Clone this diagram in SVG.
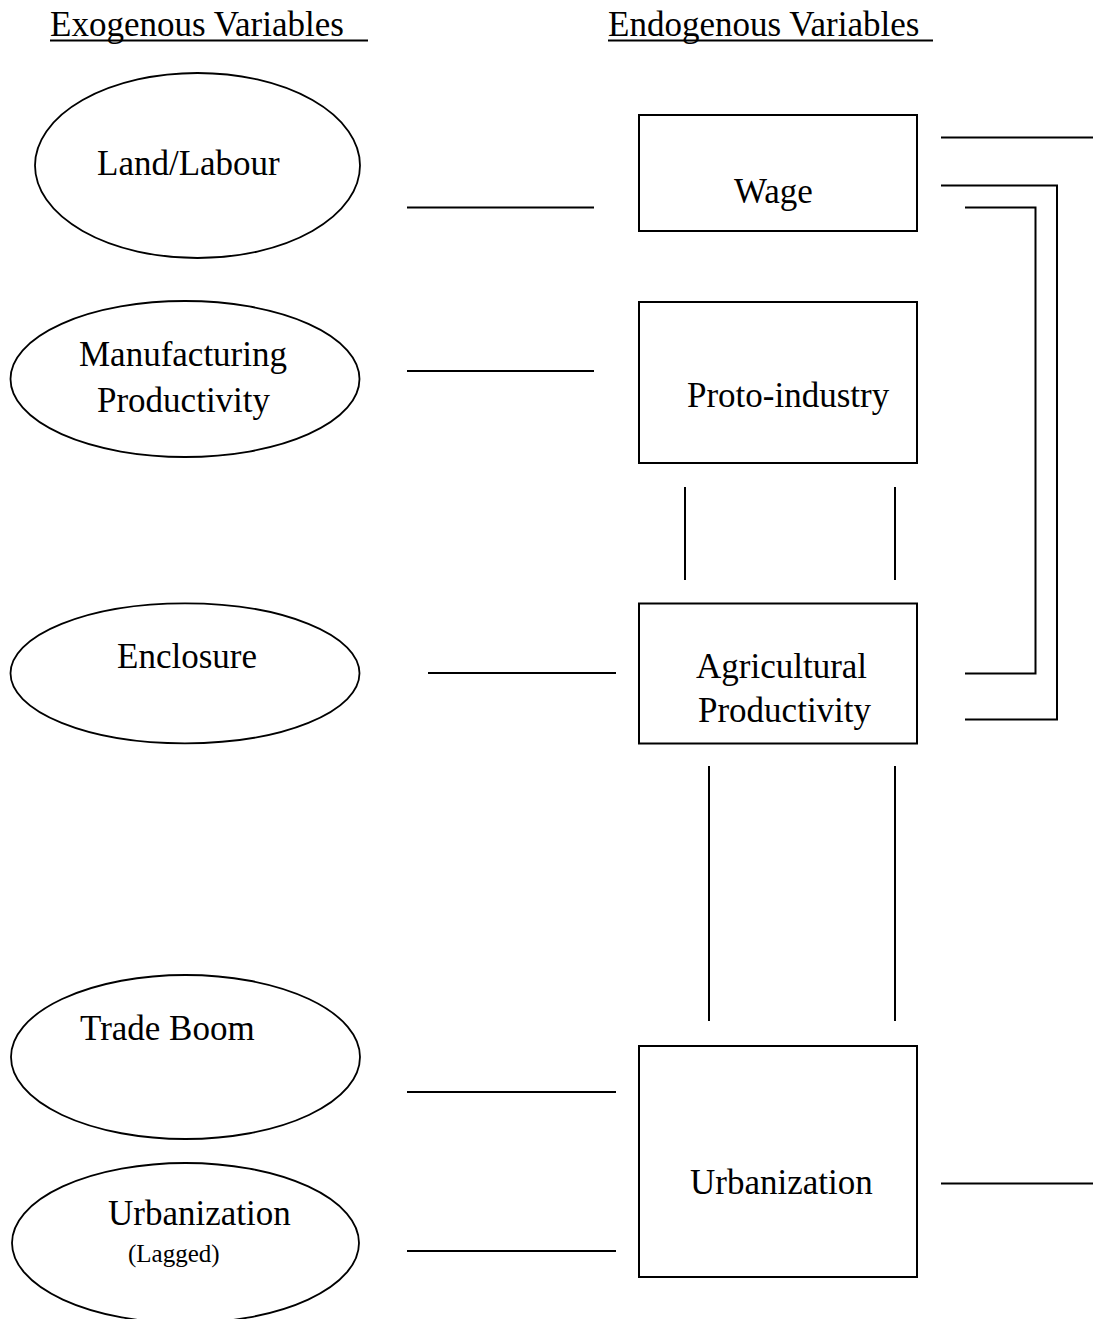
<svg xmlns="http://www.w3.org/2000/svg" width="1093" height="1319" viewBox="0 0 1093 1319">
<style>
  text { font-family: "Liberation Serif", "Times New Roman", serif; font-size: 35px; fill: #000; }
  .small { font-size: 25px; }
  .shape { fill: #fff; stroke: #000; stroke-width: 2; }
  .ell { fill: #fff; stroke: #000; stroke-width: 1.8; }
  .conn line, .conn polyline { stroke: #000; stroke-width: 2; fill: none; }
  .ul { stroke: #000; stroke-width: 2.2; }
</style>
<rect x="0" y="0" width="1093" height="1319" fill="#fff"/>

<g id="headers">
  <text x="50" y="36">Exogenous Variables</text>
  <line class="ul" x1="50" y1="40.5" x2="368" y2="40.5"/>
  <text x="608" y="36">Endogenous Variables</text>
  <line class="ul" x1="608" y1="40.5" x2="933" y2="40.5"/>
</g>

<g id="land-labour">
  <ellipse class="ell" cx="197.5" cy="165.5" rx="162.5" ry="92.5"/>
  <text x="97" y="175">Land/Labour</text>
</g>
<g id="manufacturing-productivity">
  <ellipse class="ell" cx="185" cy="379" rx="174.5" ry="78"/>
  <text x="79" y="366">Manufacturing</text>
  <text x="97" y="411.5">Productivity</text>
</g>
<g id="enclosure">
  <ellipse class="ell" cx="185" cy="673.3" rx="174.5" ry="70"/>
  <text x="117" y="668">Enclosure</text>
</g>
<g id="trade-boom">
  <ellipse class="ell" cx="185.5" cy="1057" rx="174.5" ry="82"/>
  <text x="80" y="1040">Trade Boom</text>
</g>
<g id="urbanization-lagged">
  <ellipse class="ell" cx="185.5" cy="1243" rx="173.5" ry="80"/>
  <text x="108" y="1225">Urbanization</text>
  <text class="small" x="128" y="1262">(Lagged)</text>
</g>

<g id="wage">
  <rect class="shape" x="639" y="115" width="278" height="116"/>
  <text x="734" y="203">Wage</text>
</g>
<g id="proto-industry">
  <rect class="shape" x="639" y="302" width="278" height="161"/>
  <text x="687" y="407">Proto-industry</text>
</g>
<g id="agricultural-productivity">
  <rect class="shape" x="639" y="603.5" width="278" height="140"/>
  <text x="696" y="678">Agricultural</text>
  <text x="698" y="722">Productivity</text>
</g>
<g id="urbanization">
  <rect class="shape" x="639" y="1046" width="278" height="231"/>
  <text x="690" y="1194">Urbanization</text>
</g>

<g id="connectors" class="conn">
  <line x1="407" y1="207.5" x2="594" y2="207.5"/>
  <line x1="407" y1="371" x2="594" y2="371"/>
  <line x1="428" y1="673" x2="616" y2="673"/>
  <line x1="407" y1="1092" x2="616" y2="1092"/>
  <line x1="407" y1="1251" x2="616" y2="1251"/>

  <line x1="685" y1="487" x2="685" y2="580"/>
  <line x1="895" y1="487" x2="895" y2="580"/>
  <line x1="709" y1="766" x2="709" y2="1021"/>
  <line x1="895" y1="766" x2="895" y2="1021"/>

  <line x1="941" y1="137.5" x2="1093" y2="137.5"/>
  <polyline points="941,185.5 1057,185.5 1057,719.5 965,719.5"/>
  <polyline points="965,207.5 1035.5,207.5 1035.5,673.5 965,673.5"/>
  <line x1="941" y1="1183.5" x2="1093" y2="1183.5"/>
</g>
</svg>
